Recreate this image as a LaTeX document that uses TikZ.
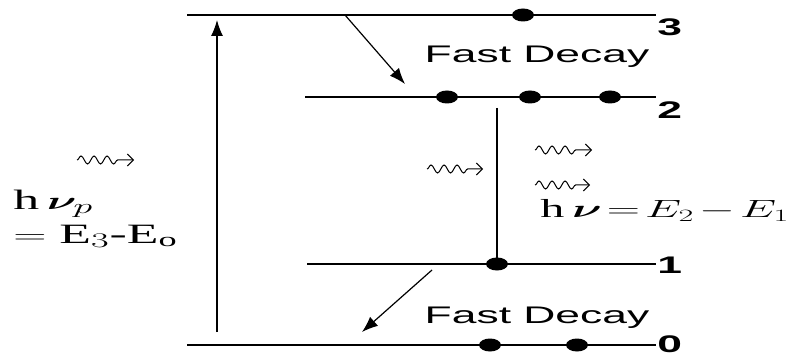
\documentclass[tikz,border=0pt]{standalone}
\usepackage{amsmath,amssymb}
\usepackage{bm}
\usepackage{fontspec}
\setmainfont{Liberation Serif}
\newfontfamily\arialfont{Liberation Sans}
\usetikzlibrary{arrows.meta,decorations.pathmorphing}

\tikzset{
  level/.style={line width=1.3pt},
  transit/.style={line width=1.2pt, -{Latex[length=16pt,width=12pt]}},
  photon/.style={line width=1pt, decorate,
    decoration={snake, amplitude=4pt, segment length=13pt, post length=14pt},
    -{Straight Barb[length=6pt,width=12pt]}},
  wide/.style={xscale=1.85, inner sep=0pt},
  decaytext/.style={wide, font=\arialfont\fontsize{24}{26}\selectfont},
  levelnum/.style={wide, anchor=west, font=\arialfont\bfseries\fontsize{24}{26}\selectfont},
  formula/.style={wide, anchor=base west, font=\fontsize{28}{30}\selectfont},
}

\begin{document}
\begin{tikzpicture}[x=1pt,y=-1pt]
  \useasboundingbox (0,0) rectangle (792,358);

  % Level end points
  \coordinate (L3a) at (187,15);  \coordinate (L3b) at (656,15);
  \coordinate (L2a) at (305,97);  \coordinate (L2b) at (656,97);
  \coordinate (L1a) at (307,264); \coordinate (L1b) at (656,264);
  \coordinate (L0a) at (187,345); \coordinate (L0b) at (656,345);

  % Energy levels
  \draw[level] (L3a) -- (L3b);
  \draw[level] (L2a) -- (L2b);
  \draw[level] (L1a) -- (L1b);
  \draw[level] (L0a) -- (L0b);

  % Level numbers
  \node[levelnum] (n3) at (657,27) {3};
  \node[levelnum] (n2) at (657,110) {2};
  \node[levelnum] (n1) at (657,265) {1};
  \node[levelnum] (n0) at (657,344) {0};

  % Electrons
  \fill (523,15) ellipse (11 and 6.5);
  \fill (447,97) ellipse (11 and 6.5);
  \fill (530,97) ellipse (11 and 6.5);
  \fill (610,97) ellipse (11 and 6.5);
  \fill (497,264) ellipse (11 and 6.5);
  \fill (490,345) ellipse (11 and 6.5);
  \fill (577,345) ellipse (11 and 6.5);

  % Pumping
  \coordinate (p0) at (217,332);
  \coordinate (p3) at (217,20);
  \draw[transit] (p0) -- (p3);

  % Fast decays
  \coordinate (d3) at (345,15);
  \coordinate (d2) at (405,84);
  \coordinate (d1) at (432,270);
  \coordinate (d0) at (362,332);
  \draw[transit] (d3) -- (d2);
  \draw[transit] (d1) -- (d0);
  \node[decaytext] (fd32) at (537,57) {Fast Decay};
  \node[decaytext] (fd10) at (537,318) {Fast Decay};

  % Laser transition
  \coordinate (t2) at (497,108);
  \coordinate (t1) at (497,264);
  \draw[line width=1.2pt] (t2) -- (t1);

  % Photons
  \coordinate (s1a) at (77,160);  \coordinate (s1b) at (134,160);
  \coordinate (s2a) at (427,169); \coordinate (s2b) at (483,169);
  \coordinate (s3a) at (535,150); \coordinate (s3b) at (592,150);
  \coordinate (s4a) at (535,185); \coordinate (s4b) at (590,185);
  \draw[photon] (s1a) -- (s1b);
  \draw[photon] (s2a) -- (s2b);
  \draw[photon] (s3a) -- (s3b);
  \draw[photon] (s4a) -- (s4b);

  % Energies
  \node[formula] (pump) at (13,210) {h$\,\bm{\nu}_p$};
  \node[formula] (pumpE) at (13,243) {$=$ E$_3$-E$_\mathrm{o}$};
  \node[formula, font=\fontsize{26}{28}\selectfont] (laserE) at (540,218)
    {\thickmuskip=2mu\medmuskip=2mu h$\,\bm{\nu}=E_2-E_1$};
\end{tikzpicture}
\end{document}
